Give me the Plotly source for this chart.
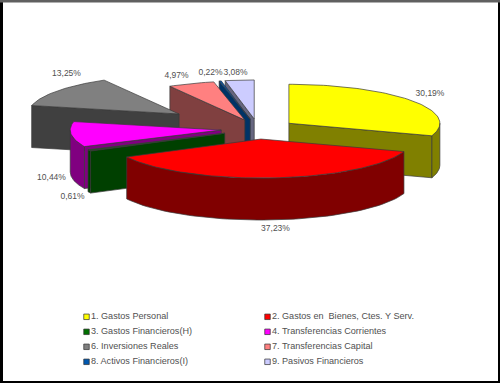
import numpy as np
import plotly.graph_objects as go

categories = ["1. Gastos Personal", "2. Gastos en  Bienes, Ctes. Y Serv.",
              "3. Gastos Financieros(H)", "4. Transferencias Corrientes",
              "6. Inversiones Reales", "7. Transferencias Capital",
              "8. Activos Financieros(I)", "9. Pasivos Financieros"]
values = [30.19, 37.23, 0.61, 10.44, 13.25, 4.97, 0.22, 3.08]
explode = [38, 39, 37, 37, 98, 37, 39, 39]
top_colors = ["#FFFF00", "#FF0000", "#007000", "#FF00FF", "#808080", "#FF8080", "#0058B0", "#CCCCFF"]
wall_colors = ["#808000", "#800000", "#004000", "#800080", "#404040", "#804040", "#003366", "#666680"]
draw_order = [0, 7, 6, 5, 4, 3, 2, 1]

# projection of the pie on the canvas
CX, CY, RX, RY, DEPTH = 258, 129, 151, 39, 42
RATIO = RY / RX
EDGE = "#3a3a3a"

label_pos = [(430, 93.5), (275.5, 228.5), (72.5, 196.5), (51.5, 177.5), (66.5, 73.5), (176.5, 75.5), (210.5, 72.5), (235.5, 72.5)]
legend_x = [86.5, 267.5]
legend_y = [316, 331, 346, 361]

total = sum(values)
bounds = np.concatenate([[0], np.cumsum(values)]) / total * 2 * np.pi

fig = go.Figure()


def poly(xs, ys, color, name):
    fig.add_trace(go.Scatter(x=list(xs), y=list(ys), mode="lines", fill="toself", fillcolor=color,
                             line=dict(color=EDGE, width=0.7), showlegend=False, name=name,
                             hoverinfo="name"))


for i in draw_order:
    t0, t1 = bounds[i], bounds[i + 1]
    mid = (t0 + t1) / 2
    ax = CX + explode[i] * np.sin(mid)
    ay = CY - explode[i] * np.cos(mid) * RATIO
    px = lambda t: ax + RX * np.sin(t)
    py = lambda t: ay - RY * np.cos(t)
    # radial walls facing the viewer
    if np.sin(t0) < 0:
        poly([ax, px(t0), px(t0), ax, ax], [ay, py(t0), py(t0) + DEPTH, ay + DEPTH, ay], wall_colors[i], categories[i])
    if np.sin(t1) > 0:
        poly([ax, px(t1), px(t1), ax, ax], [ay, py(t1), py(t1) + DEPTH, ay + DEPTH, ay], wall_colors[i], categories[i])
    # outer rim, front half only
    r0, r1 = max(t0, np.pi / 2), min(t1, 3 * np.pi / 2)
    if r1 > r0:
        arc = np.linspace(r0, r1, 60)
        poly(np.r_[px(arc), px(arc[::-1]), px(arc[0])],
             np.r_[py(arc), py(arc[::-1]) + DEPTH, py(arc[0])], wall_colors[i], categories[i])
    # top face
    arc = np.linspace(t0, t1, max(4, int((t1 - t0) * 40)))
    poly(np.r_[ax, px(arc), ax], np.r_[ay, py(arc), ay], top_colors[i], categories[i])

# percentage labels
fig.add_trace(go.Scatter(x=[p[0] for p in label_pos], y=[p[1] for p in label_pos], mode="text",
                         text=[f"{v:.2f}".replace(".", ",") + "%" for v in values],
                         textfont=dict(family="Liberation Sans", size=8.5, color="#505050"),
                         textposition="middle center", showlegend=False, hoverinfo="skip"))

# legend (two columns, filled row by row)
fig.add_trace(go.Scatter(x=[legend_x[k % 2] for k in range(len(categories))],
                         y=[legend_y[k // 2] + 0.8 for k in range(len(categories))],
                         mode="markers+text", text=categories,
                         marker=dict(symbol="square", size=5.5, color=top_colors[:],
                                     line=dict(color="#303030", width=0.7)),
                         textposition="middle right",
                         textfont=dict(family="Liberation Sans", size=9.1, color="#505050"),
                         showlegend=False, hoverinfo="skip"))

# picture frame
frame = [(0, 0, 3, 383, "#000000"), (498, 0, 500, 383, "#000000"),
         (0, 381, 500, 383, "#000000"), (0, 0, 500, 2.5, "#606060")]
shapes = [dict(type="rect", xref="x", yref="y", x0=a, y0=b, x1=c, y1=d, fillcolor=col,
               line=dict(width=0), layer="above") for a, b, c, d, col in frame]

fig.update_layout(width=500, height=383, margin=dict(l=0, r=0, t=0, b=0),
                  paper_bgcolor="white", plot_bgcolor="white", showlegend=False, shapes=shapes,
                  xaxis=dict(range=[0, 500], visible=False, fixedrange=True),
                  yaxis=dict(range=[383, 0], visible=False, fixedrange=True))
fig.write_html("out.html", config=dict(displayModeBar=False),
               post_script="document.body.style.margin='0';")
